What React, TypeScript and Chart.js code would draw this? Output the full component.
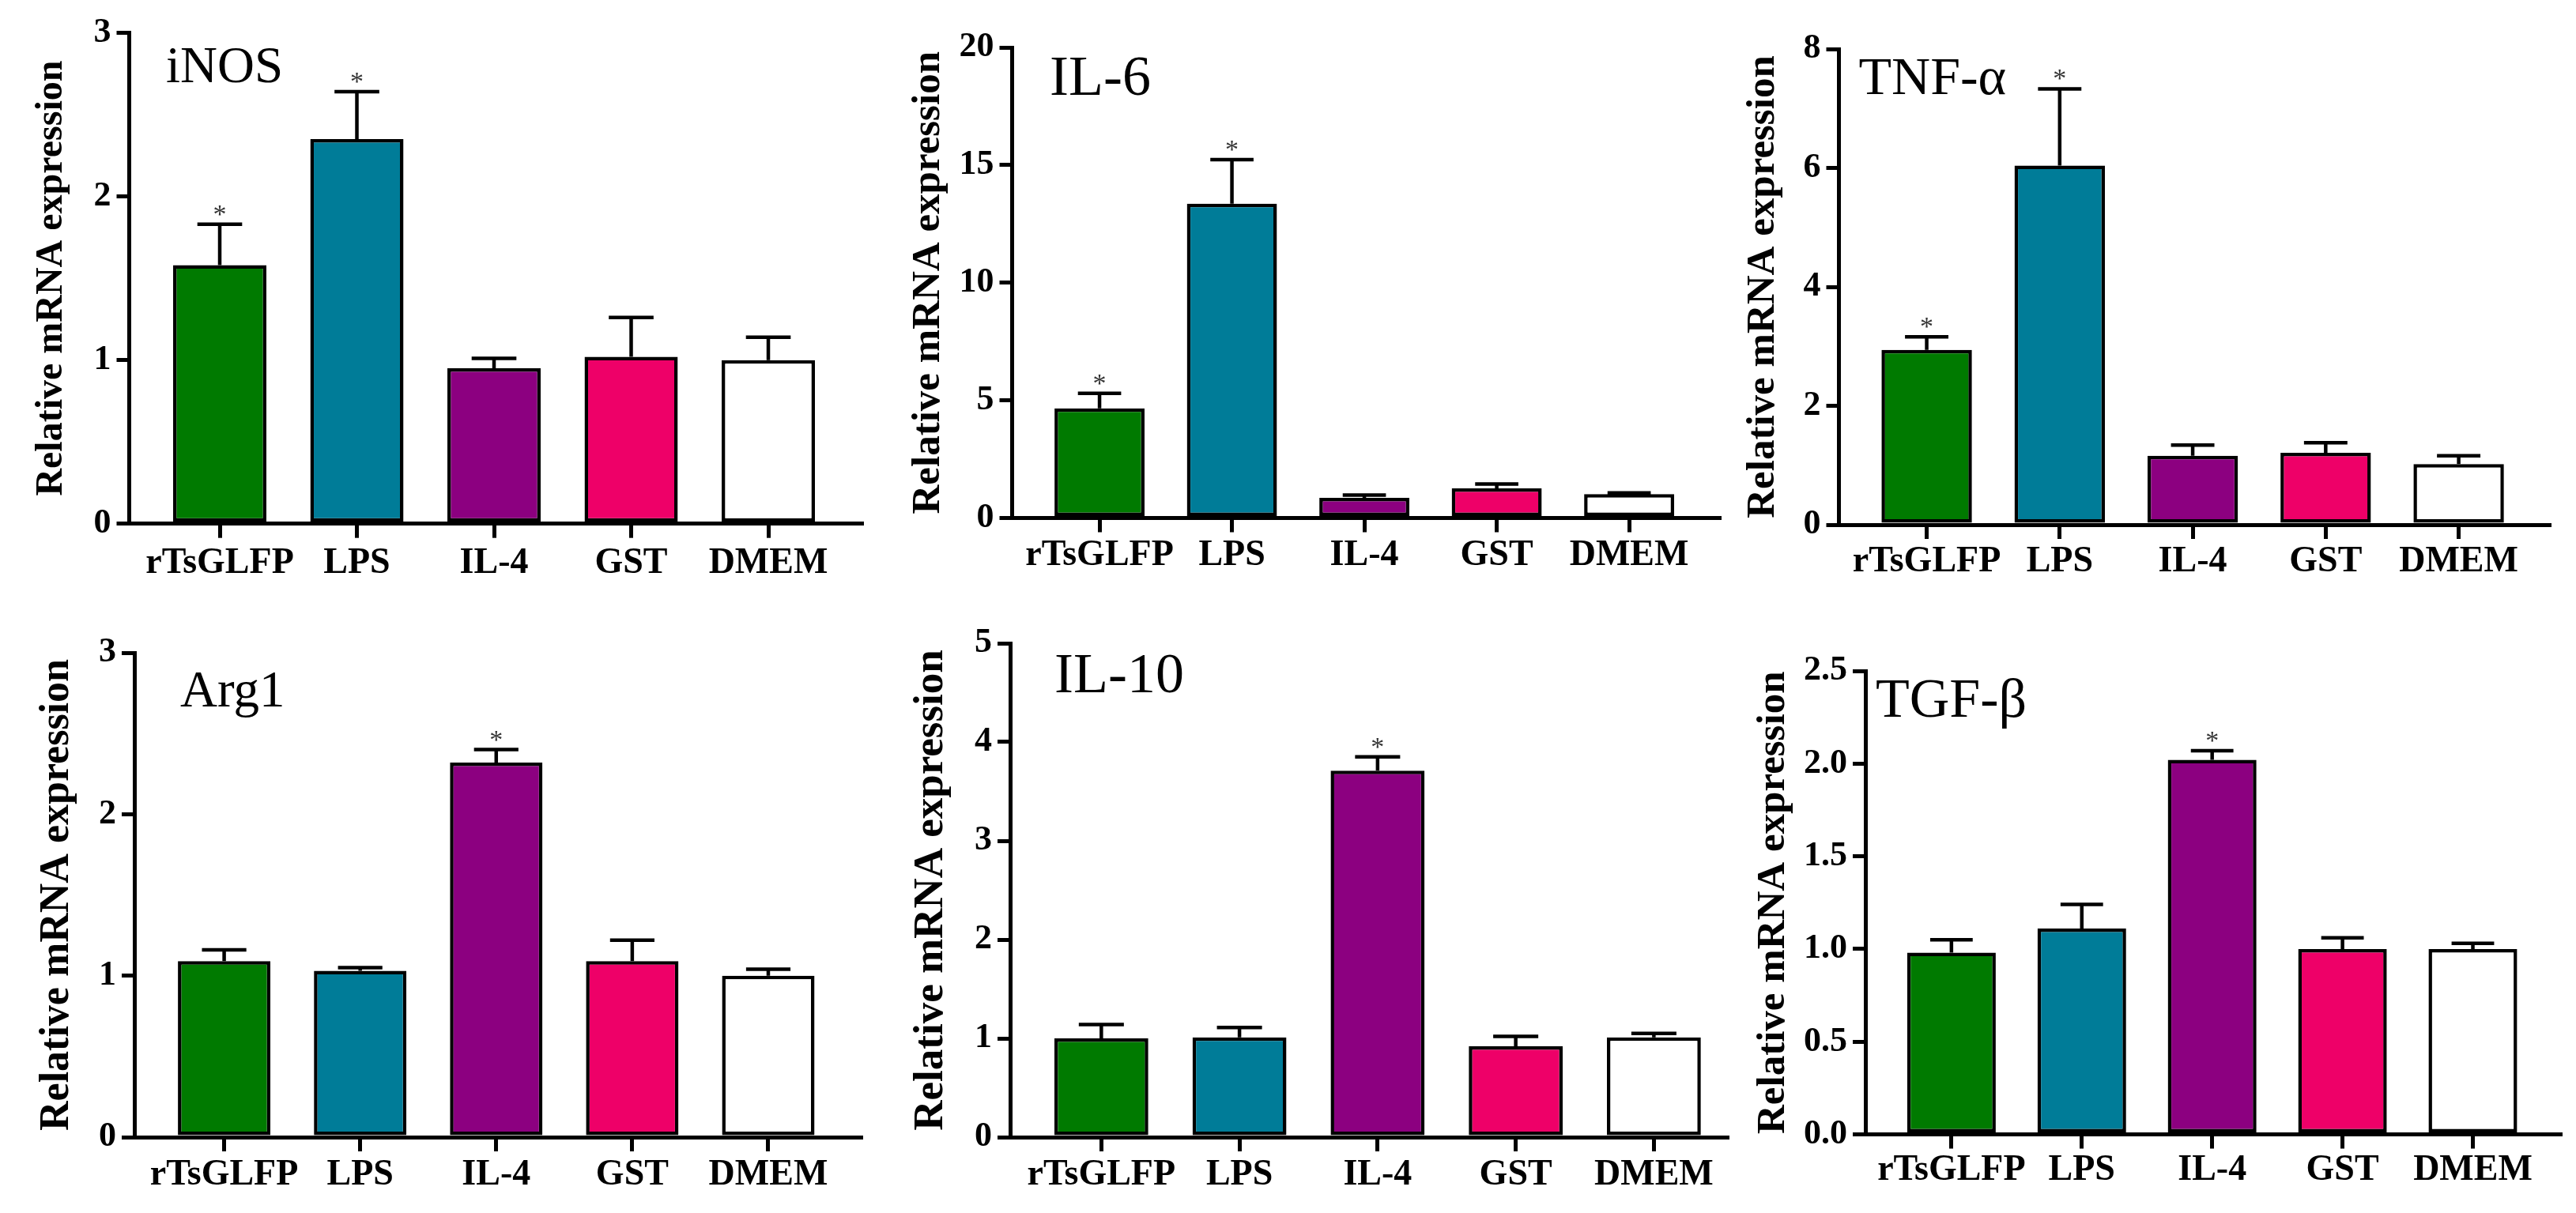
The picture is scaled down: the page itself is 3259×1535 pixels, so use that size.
import React, { useEffect, useRef } from "react";
import { Chart, registerables } from "chart.js";

Chart.register(...registerables);

// ---------- data ----------
const categories = ["rTsGLFP", "LPS", "IL-4", "GST", "DMEM"];
const barColors = ["#007a00", "#007c98", "#8c0080", "#ee0068", "#ffffff"];
const yAxisTitle = "Relative mRNA expression";

const panelNames = ["iNOS", "IL-6", "TNF-α", "Arg1", "IL-10", "TGF-β"];
const yMaxima = [3, 20, 8, 3, 5, 2.5];
const yStepSizes = [1, 5, 2, 1, 1, 0.5];
const yDecimals = [0, 0, 0, 0, 0, 1];

const iNOSMeans = [1.58, 2.35, 0.95, 1.02, 1.0];
const iNOSErrors = [0.25, 0.29, 0.06, 0.24, 0.14];
const iNOSStars = [true, true, false, false, false];

const il6Means = [4.66, 13.36, 0.86, 1.26, 1.02];
const il6Errors = [0.64, 1.87, 0.11, 0.18, 0.05];
const il6Stars = [true, true, false, false, false];

const tnfMeans = [2.94, 6.04, 1.16, 1.21, 1.02];
const tnfErrors = [0.22, 1.29, 0.18, 0.17, 0.14];
const tnfStars = [true, true, false, false, false];

const arg1Means = [1.09, 1.03, 2.32, 1.09, 1.0];
const arg1Errors = [0.07, 0.02, 0.08, 0.13, 0.04];
const arg1Stars = [false, false, true, false, false];

const il10Means = [1.0, 1.01, 3.71, 0.92, 1.01];
const il10Errors = [0.14, 0.1, 0.14, 0.1, 0.04];
const il10Stars = [false, false, true, false, false];

const tgfMeans = [0.98, 1.11, 2.02, 1.0, 1.0];
const tgfErrors = [0.07, 0.13, 0.05, 0.06, 0.03];
const tgfStars = [false, false, true, false, false];

const allMeans = [iNOSMeans, il6Means, tnfMeans, arg1Means, il10Means, tgfMeans];
const allErrors = [iNOSErrors, il6Errors, tnfErrors, arg1Errors, il10Errors, tgfErrors];
const allStars = [iNOSStars, il6Stars, tnfStars, arg1Stars, il10Stars, tgfStars];

// ---------- layout (positions / sizes, kept apart from the data) ----------
type Layout = {
  left: number; top: number; width: number; height: number;
  axisX: number; plotTop: number; zeroY: number; axisEnd: number;
  xMax: number; titleGap: number; titleSize: number;
  nameSize: number; nameDX: number; nameDY: number; labelPad: number;
};
const X_MIN = -0.66;
const layouts: Layout[] = [
  { left: 0, top: 0, width: 1100, height: 770, axisX: 163.5, plotTop: 41.5, zeroY: 662.7, axisEnd: 1090, xMax: 4.68, titleGap: 98, titleSize: 48, nameSize: 65, nameDX: 46.5, nameDY: 62.5, labelPad: 5 },
  { left: 1100, top: 0, width: 1100, height: 770, axisX: 1280.5, plotTop: 60, zeroY: 655.5, axisEnd: 2175, xMax: 4.68, titleGap: 105.5, titleSize: 51, nameSize: 72, nameDX: 47.5, nameDY: 60, labelPad: 2 },
  { left: 2200, top: 0, width: 1059, height: 770, axisX: 2326.5, plotTop: 62, zeroY: 664, axisEnd: 3225, xMax: 4.68, titleGap: 96, titleSize: 51, nameSize: 68, nameDX: 25, nameDY: 57, labelPad: 2 },
  { left: 0, top: 775, width: 1100, height: 760, axisX: 170, plotTop: 826, zeroY: 1439, axisEnd: 1089, xMax: 4.68, titleGap: 97, titleSize: 52, nameSize: 65, nameDX: 58, nameDY: 68, labelPad: 3 },
  { left: 1100, top: 775, width: 1100, height: 760, axisX: 1278, plotTop: 814, zeroY: 1439, axisEnd: 2185, xMax: 4.53, titleGap: 100, titleSize: 53, nameSize: 72, nameDX: 56, nameDY: 62, labelPad: 3 },
  { left: 2200, top: 775, width: 1059, height: 760, axisX: 2360, plotTop: 849, zeroY: 1435.5, axisEnd: 3239, xMax: 4.67, titleGap: 116, titleSize: 51, nameSize: 70, nameDX: 13, nameDY: 58, labelPad: 0 },
];

const FONT = '"Liberation Serif", "Times New Roman", serif';
const LINE = 5;
const BAR_LINE = 4.5;

function makeOverlay(idx: number, lay: Layout) {
  return {
    id: "overlay" + idx,
    afterDatasetsDraw(chart: any) {
      const { ctx, chartArea, scales } = chart;
      const meta = chart.getDatasetMeta(0);
      const means = allMeans[idx];
      const errors = allErrors[idx];
      const stars = allStars[idx];
      ctx.save();
      ctx.strokeStyle = "#000";
      ctx.lineWidth = BAR_LINE;
      ctx.lineCap = "butt";
      meta.data.forEach((bar: any, i: number) => {
        const { x, y, width } = bar.getProps(["x", "y", "width"], true);
        const yTop = scales.y.getPixelForValue(means[i] + errors[i]);
        ctx.beginPath();
        ctx.moveTo(x, y);
        ctx.lineTo(x, yTop);
        ctx.moveTo(x - width * 0.24, yTop);
        ctx.lineTo(x + width * 0.24, yTop);
        ctx.stroke();
        if (stars[i]) {
          ctx.fillStyle = "#333";
          ctx.font = `34px ${FONT}`;
          ctx.textAlign = "center";
          ctx.textBaseline = "alphabetic";
          ctx.fillText("*", x, yTop - 2);
        }
      });
      ctx.fillStyle = "#000";
      ctx.font = `${lay.nameSize}px ${FONT}`;
      ctx.textAlign = "left";
      ctx.textBaseline = "alphabetic";
      ctx.fillText(panelNames[idx], chartArea.left + lay.nameDX, chartArea.top + lay.nameDY);
      ctx.restore();
    },
  };
}

function Panel({ idx }: { idx: number }) {
  const ref = useRef<HTMLCanvasElement | null>(null);
  const lay = layouts[idx];
  useEffect(() => {
    if (!ref.current) return;
    const yWidth = lay.axisX - lay.left;
    const xHeight = lay.height - (lay.zeroY - lay.top);
    const titleCenter = lay.axisX - lay.titleGap - lay.left;
    const titlePad = titleCenter - (lay.titleSize * 1.2) / 2;
    const chart = new Chart(ref.current, {
      type: "bar",
      data: {
        datasets: [
          {
            data: allMeans[idx].map((m, i) => ({ x: i, y: m })),
            backgroundColor: barColors,
            borderColor: "#000",
            borderWidth: BAR_LINE,
            borderSkipped: false,
            barPercentage: 0.68,
            categoryPercentage: 1,
          } as any,
        ],
      },
      options: {
        animation: false,
        responsive: false,
        devicePixelRatio: 1,
        layout: {
          padding: {
            left: 0,
            top: lay.plotTop - lay.top,
            right: lay.width - (lay.axisEnd - lay.left),
            bottom: 0,
          },
        },
        plugins: {
          legend: { display: false },
          tooltip: { enabled: false },
          title: { display: false },
        },
        scales: {
          x: {
            type: "linear",
            bounds: "data",
            offset: false,
            min: X_MIN,
            max: lay.xMax,
            afterBuildTicks: (axis: any) => {
              axis.ticks = categories.map((_, i) => ({ value: i }));
            },
            afterFit: (scale: any) => {
              scale.height = xHeight;
            },
            grid: {
              display: true,
              offset: false,
              drawOnChartArea: false,
              drawTicks: true,
              tickLength: 18,
              color: "#000",
              lineWidth: LINE,
            },
            border: { display: true, color: "#000", width: LINE },
            ticks: {
              autoSkip: false,
              maxRotation: 0,
              minRotation: 0,
              padding: lay.labelPad,
              color: "#000",
              font: { family: FONT, size: 46, weight: "bold" },
              callback: (v: any) => categories[Math.round(Number(v))] ?? "",
            },
          },
          y: {
            type: "linear",
            min: 0,
            max: yMaxima[idx],
            afterFit: (scale: any) => {
              scale.width = yWidth;
            },
            grid: {
              display: true,
              drawOnChartArea: false,
              drawTicks: true,
              tickLength: 16,
              color: "#000",
              lineWidth: LINE,
            },
            border: { display: true, color: "#000", width: LINE },
            ticks: {
              stepSize: yStepSizes[idx],
              padding: 7,
              color: "#000",
              font: { family: FONT, size: 44, weight: "bold" },
              callback: (v: any) => Number(v).toFixed(yDecimals[idx]),
            },
            title: {
              display: true,
              text: yAxisTitle,
              color: "#000",
              padding: { top: titlePad, bottom: 0 },
              font: { family: FONT, size: lay.titleSize, weight: "bold", lineHeight: 1.2 },
            },
          },
        },
      } as any,
      plugins: [makeOverlay(idx, lay)],
    });
    return () => chart.destroy();
  }, [idx]);
  return (
    <canvas
      ref={ref}
      width={lay.width}
      height={lay.height}
      style={{
        position: "absolute",
        left: lay.left,
        top: lay.top,
        width: lay.width,
        height: lay.height,
      }}
    />
  );
}

export default function App() {
  return (
    <div
      style={{
        position: "absolute",
        left: 0,
        top: 0,
        width: 3259,
        height: 1535,
        background: "#fff",
        overflow: "hidden",
      }}
    >
      {panelNames.map((_, i) => (
        <Panel key={i} idx={i} />
      ))}
    </div>
  );
}
